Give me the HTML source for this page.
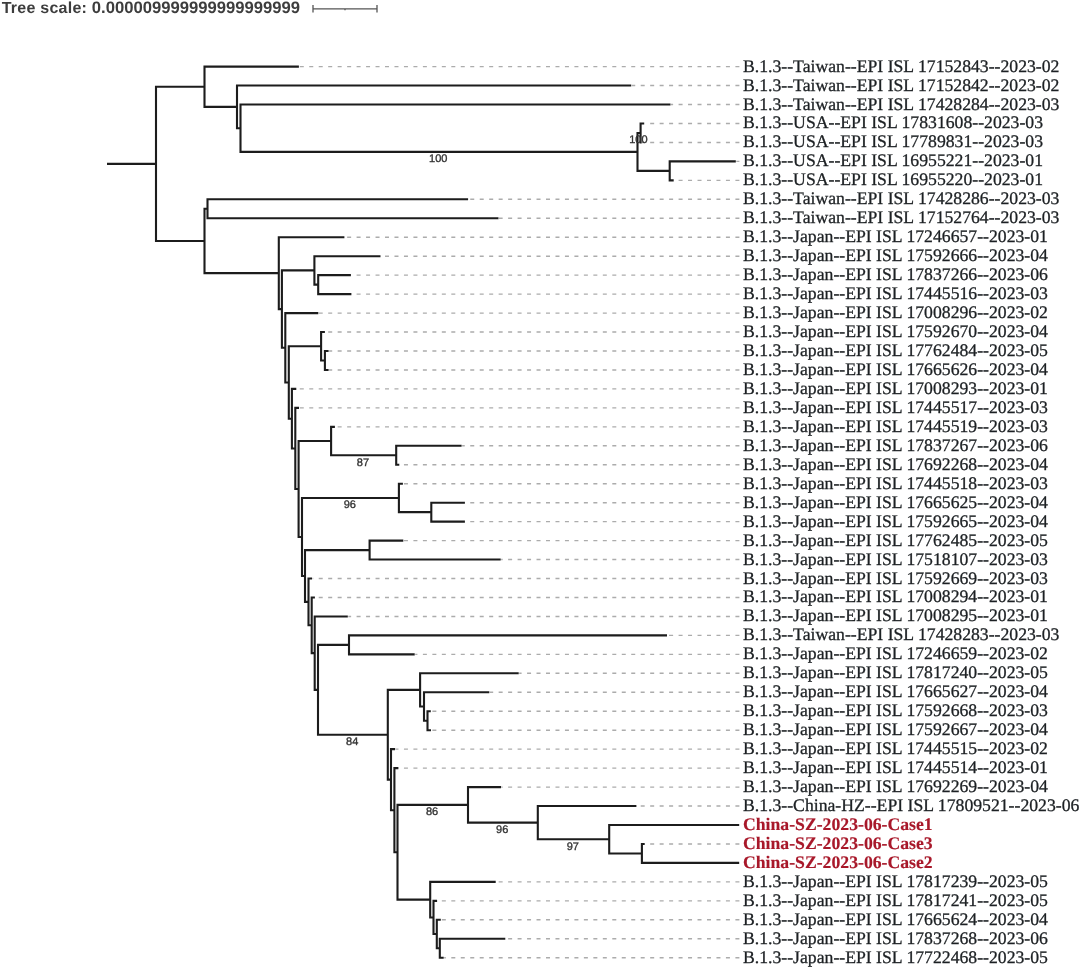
<!DOCTYPE html>
<html><head><meta charset="utf-8"><style>
html,body{margin:0;padding:0;background:#fff;}
body{width:1080px;height:968px;overflow:hidden;position:relative;}
svg{position:absolute;left:0;top:0;text-rendering:geometricPrecision;filter:blur(0.3px);}
.lab text{font-family:"Liberation Serif",serif;font-size:17.7px;fill:#1d2124;stroke:#1d2124;stroke-width:0.3px;}
.lab text.r{font-weight:bold;fill:#a8182a;stroke:#a8182a;stroke-width:0.15px;}
.bs text{font-family:"Liberation Sans",sans-serif;font-size:11px;fill:#333;stroke:#333;stroke-width:0.35px;text-anchor:middle;}
.ts{font-family:"Liberation Sans",sans-serif;font-size:16.6px;font-weight:bold;fill:#3d3d3d;}
</style></head><body>
<svg width="1080" height="968" viewBox="0 0 1080 968">
<text class="ts" x="1.7" y="13.3"><tspan style="font-size:16px;letter-spacing:0.25px">Tree scale: </tspan><tspan style="font-size:16.65px">0.000009999999999999999</tspan></text>
<path d="M313 8.8H377M313 5V12.6M377 5V12.6M345 8.8V10.3" stroke="#555" stroke-width="1.3" fill="none"/>
<path d="M739.40 66.60H299.40M739.40 85.56H631.70M739.40 104.52H671.00M739.40 123.48H644.70M739.40 142.44H641.70M739.40 161.40H736.30M739.40 180.36H674.20M739.40 199.32H468.60M739.40 218.28H499.00M739.40 237.24H344.90M739.40 256.20H381.00M739.40 275.16H351.40M739.40 294.12H351.90M739.40 313.08H318.80M739.40 332.04H325.40M739.40 351.00H329.10M739.40 369.96H329.10M739.40 388.92H296.80M739.40 407.88H299.50M739.40 426.84H335.40M739.40 445.80H462.10M739.40 464.76H399.80M739.40 483.72H403.40M739.40 502.68H465.40M739.40 521.64H465.40M739.40 540.60H403.80M739.40 559.56H501.20M739.40 578.52H312.50M739.40 597.48H315.40M739.40 616.44H348.30M739.40 635.40H667.50M739.40 654.36H415.20M739.40 673.32H519.20M739.40 692.28H489.80M739.40 711.24H431.30M739.40 730.20H431.50M739.40 749.16H395.60M739.40 768.12H398.90M739.40 787.08H501.60M739.40 806.04H636.90M739.40 843.96H645.20M739.40 881.88H496.20M739.40 900.84H437.60M739.40 919.80H441.30M739.40 938.76H505.80M739.40 957.72H444.20" stroke="#acacac" stroke-width="1.4" stroke-dasharray="4 5.47" fill="none"/>
<path d="M107.00 163.86H156.00M156.00 85.70V242.03M156.00 86.75H204.50M204.50 65.55V107.94M204.50 66.60H298.90M204.50 106.89H237.00M237.00 84.51V129.27M237.00 85.56H631.20M237.00 128.22H240.50M240.50 103.47V152.97M240.50 104.52H670.50M240.50 151.92H637.50M637.50 131.91V171.93M637.50 132.96H640.60M640.60 122.43V143.49M640.60 123.48H644.20M640.60 142.44H641.20M637.50 170.88H669.70M669.70 160.35V181.41M669.70 161.40H735.80M669.70 180.36H673.70M156.00 240.98H204.50M204.50 207.75V274.22M204.50 208.80H207.50M207.50 198.27V219.33M207.50 199.32H468.10M207.50 218.28H498.50M204.50 273.17H278.80M278.80 236.19V310.15M278.80 237.24H344.40M278.80 309.10H281.90M281.90 269.37V348.83M281.90 270.42H314.40M314.40 255.15V285.69M314.40 256.20H380.50M314.40 284.64H318.20M318.20 274.11V295.17M318.20 275.16H350.90M318.20 294.12H351.40M281.90 347.78H285.30M285.30 312.03V383.52M285.30 313.08H318.30M285.30 382.47H288.80M288.80 345.21V419.73M288.80 346.26H321.10M321.10 330.99V361.53M321.10 332.04H324.90M321.10 360.48H324.90M324.90 349.95V371.01M324.90 351.00H328.60M324.90 369.96H328.60M288.80 418.68H291.90M291.90 387.87V449.50M291.90 388.92H296.30M291.90 448.45H295.30M295.30 406.83V490.06M295.30 407.88H299.00M295.30 489.01H298.60M298.60 440.01V538.02M298.60 441.06H331.10M331.10 425.79V456.33M331.10 426.84H334.90M331.10 455.28H396.20M396.20 444.75V465.81M396.20 445.80H461.60M396.20 464.76H399.30M298.60 536.97H302.00M302.00 496.89V577.05M302.00 497.94H398.90M398.90 482.67V513.21M398.90 483.72H402.90M398.90 512.16H431.30M431.30 501.63V522.69M431.30 502.68H464.90M431.30 521.64H464.90M302.00 576.00H305.00M305.00 549.03V602.96M305.00 550.08H369.60M369.60 539.55V560.61M369.60 540.60H403.30M369.60 559.56H500.70M305.00 601.91H308.50M308.50 577.47V626.36M308.50 578.52H312.00M308.50 625.31H311.70M311.70 596.43V654.19M311.70 597.48H314.90M311.70 653.14H314.70M314.70 615.39V690.89M314.70 616.44H347.80M314.70 689.84H318.00M318.00 643.83V735.84M318.00 644.88H349.00M349.00 634.35V655.41M349.00 635.40H667.00M349.00 654.36H414.70M318.00 734.79H387.80M387.80 688.86V780.72M387.80 689.91H420.10M420.10 672.27V707.55M420.10 673.32H518.70M420.10 706.50H424.00M424.00 691.23V721.77M424.00 692.28H489.30M424.00 720.72H427.50M427.50 710.19V731.25M427.50 711.24H430.80M427.50 730.20H431.00M387.80 779.67H391.00M391.00 748.11V811.24M391.00 749.16H395.10M391.00 810.19H394.40M394.40 767.07V853.31M394.40 768.12H398.40M394.40 852.26H397.50M397.50 803.81V900.71M397.50 804.86H468.00M468.00 786.03V823.68M468.00 787.08H501.10M468.00 822.63H537.80M537.80 804.99V840.27M537.80 806.04H636.40M537.80 839.22H609.20M609.20 823.95V854.49M609.20 825.00H739.20M609.20 853.44H641.90M641.90 842.91V863.97M641.90 843.96H644.70M641.90 862.92H739.20M397.50 899.66H430.20M430.20 880.83V918.48M430.20 881.88H495.70M430.20 917.43H433.50M433.50 899.79V935.07M433.50 900.84H437.10M433.50 934.02H436.80M436.80 918.75V949.29M436.80 919.80H440.80M436.80 948.24H439.80M439.80 937.71V958.77M439.80 938.76H505.30M439.80 957.72H443.70" stroke="#1c1c1c" stroke-width="2.1" fill="none"/>
<g class="bs"><text x="438.30" y="162.22">100</text><text x="638.35" y="143.26">100</text><text x="362.95" y="465.58">87</text><text x="349.75" y="508.24">96</text><text x="352.20" y="745.09">84</text><text x="432.05" y="815.15">86</text><text x="502.20" y="832.93">96</text><text x="572.80" y="849.52">97</text></g>
<g class="lab"><text x="743.0" y="71.60">B.1.3--Taiwan--EPI ISL 17152843--2023-02</text><text x="743.0" y="90.56">B.1.3--Taiwan--EPI ISL 17152842--2023-02</text><text x="743.0" y="109.52">B.1.3--Taiwan--EPI ISL 17428284--2023-03</text><text x="743.0" y="128.48">B.1.3--USA--EPI ISL 17831608--2023-03</text><text x="743.0" y="147.44">B.1.3--USA--EPI ISL 17789831--2023-03</text><text x="743.0" y="166.40">B.1.3--USA--EPI ISL 16955221--2023-01</text><text x="743.0" y="185.36">B.1.3--USA--EPI ISL 16955220--2023-01</text><text x="743.0" y="204.32">B.1.3--Taiwan--EPI ISL 17428286--2023-03</text><text x="743.0" y="223.28">B.1.3--Taiwan--EPI ISL 17152764--2023-03</text><text x="743.0" y="242.24">B.1.3--Japan--EPI ISL 17246657--2023-01</text><text x="743.0" y="261.20">B.1.3--Japan--EPI ISL 17592666--2023-04</text><text x="743.0" y="280.16">B.1.3--Japan--EPI ISL 17837266--2023-06</text><text x="743.0" y="299.12">B.1.3--Japan--EPI ISL 17445516--2023-03</text><text x="743.0" y="318.08">B.1.3--Japan--EPI ISL 17008296--2023-02</text><text x="743.0" y="337.04">B.1.3--Japan--EPI ISL 17592670--2023-04</text><text x="743.0" y="356.00">B.1.3--Japan--EPI ISL 17762484--2023-05</text><text x="743.0" y="374.96">B.1.3--Japan--EPI ISL 17665626--2023-04</text><text x="743.0" y="393.92">B.1.3--Japan--EPI ISL 17008293--2023-01</text><text x="743.0" y="412.88">B.1.3--Japan--EPI ISL 17445517--2023-03</text><text x="743.0" y="431.84">B.1.3--Japan--EPI ISL 17445519--2023-03</text><text x="743.0" y="450.80">B.1.3--Japan--EPI ISL 17837267--2023-06</text><text x="743.0" y="469.76">B.1.3--Japan--EPI ISL 17692268--2023-04</text><text x="743.0" y="488.72">B.1.3--Japan--EPI ISL 17445518--2023-03</text><text x="743.0" y="507.68">B.1.3--Japan--EPI ISL 17665625--2023-04</text><text x="743.0" y="526.64">B.1.3--Japan--EPI ISL 17592665--2023-04</text><text x="743.0" y="545.60">B.1.3--Japan--EPI ISL 17762485--2023-05</text><text x="743.0" y="564.56">B.1.3--Japan--EPI ISL 17518107--2023-03</text><text x="743.0" y="583.52">B.1.3--Japan--EPI ISL 17592669--2023-03</text><text x="743.0" y="602.48">B.1.3--Japan--EPI ISL 17008294--2023-01</text><text x="743.0" y="621.44">B.1.3--Japan--EPI ISL 17008295--2023-01</text><text x="743.0" y="640.40">B.1.3--Taiwan--EPI ISL 17428283--2023-03</text><text x="743.0" y="659.36">B.1.3--Japan--EPI ISL 17246659--2023-02</text><text x="743.0" y="678.32">B.1.3--Japan--EPI ISL 17817240--2023-05</text><text x="743.0" y="697.28">B.1.3--Japan--EPI ISL 17665627--2023-04</text><text x="743.0" y="716.24">B.1.3--Japan--EPI ISL 17592668--2023-03</text><text x="743.0" y="735.20">B.1.3--Japan--EPI ISL 17592667--2023-04</text><text x="743.0" y="754.16">B.1.3--Japan--EPI ISL 17445515--2023-02</text><text x="743.0" y="773.12">B.1.3--Japan--EPI ISL 17445514--2023-01</text><text x="743.0" y="792.08">B.1.3--Japan--EPI ISL 17692269--2023-04</text><text x="743.0" y="811.04">B.1.3--China-HZ--EPI ISL 17809521--2023-06</text><text x="743.0" y="830.00" class="r">China-SZ-2023-06-Case1</text><text x="743.0" y="848.96" class="r">China-SZ-2023-06-Case3</text><text x="743.0" y="867.92" class="r">China-SZ-2023-06-Case2</text><text x="743.0" y="886.88">B.1.3--Japan--EPI ISL 17817239--2023-05</text><text x="743.0" y="905.84">B.1.3--Japan--EPI ISL 17817241--2023-05</text><text x="743.0" y="924.80">B.1.3--Japan--EPI ISL 17665624--2023-04</text><text x="743.0" y="943.76">B.1.3--Japan--EPI ISL 17837268--2023-06</text><text x="743.0" y="962.72">B.1.3--Japan--EPI ISL 17722468--2023-05</text></g>
</svg>
</body></html>
